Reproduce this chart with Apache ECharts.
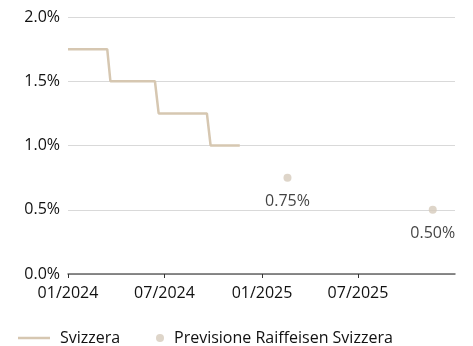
<!DOCTYPE html>
<html><head><meta charset="utf-8">
<script src="https://cdn.jsdelivr.net/npm/echarts@6/dist/echarts.min.js"></script>
<style>html,body{margin:0;padding:0;background:#fff}#c{width:473px;height:346px}</style>
</head><body><div id="c"></div>
<script>
// Policy rate Switzerland (step line)
const lineDates = ['2024-01-01','2024-03-15','2024-03-21','2024-06-13','2024-06-20','2024-09-19','2024-09-26','2024-11-20'];
const lineValues = [1.75, 1.75, 1.50, 1.50, 1.25, 1.25, 1.00, 1.00];
// Raiffeisen forecast
const forecastDates = ['2025-02-18','2025-11-19'];
const forecastValues = [0.75, 0.50];
// Axis ticks
const xTickDates = ['2024-01-01','2024-07-01','2025-01-01','2025-07-01'];
const yTicks = [0, 0.5, 1.0, 1.5, 2.0];
const seriesNames = ['Svizzera', 'Previsione Raiffeisen Svizzera'];

const FONT = 'Open Sans';
const TXT = '#111';
const ts = d => new Date(d + 'T00:00:00Z').getTime();
const pad2 = n => (n < 10 ? '0' : '') + n;

const chart = echarts.init(document.getElementById('c'), null, {renderer: 'canvas'});
chart.setOption({
  animation: false,
  textStyle: {fontFamily: FONT},
  grid: {left: 68, right: 18, top: 17, bottom: 72, containLabel: false},
  xAxis: {
    type: 'value',
    min: ts('2024-01-01'),
    max: ts('2025-12-31'),
    axisLine: {show: true, lineStyle: {color: '#666', width: 1.5}},
    axisTick: {show: true, length: 4, lineStyle: {color: '#333'}, customValues: xTickDates.map(ts)},
    axisLabel: {
      customValues: xTickDates.map(ts),
      color: TXT, fontSize: 16, fontFamily: FONT, margin: 11,
      formatter: v => { const d = new Date(v); return pad2(d.getUTCMonth() + 1) + '/' + d.getUTCFullYear(); }
    },
    splitLine: {show: false}
  },
  yAxis: {
    type: 'value', min: 0, max: 2, interval: 0.5,
    axisLine: {show: false}, axisTick: {show: false},
    axisLabel: {color: TXT, fontSize: 16, fontFamily: FONT, margin: 8, formatter: v => v.toFixed(1) + '%'},
    splitLine: {lineStyle: {color: '#d9d9d9', width: 1}}
  },
  legend: [
    {data: [{name: seriesNames[0], icon: 'rect'}], left: 18, top: 330, padding: 0, itemWidth: 32, itemHeight: 2.5,
     textStyle: {color: TXT, fontSize: 16, fontFamily: FONT, padding: [0,0,0,5]}},
    {data: [seriesNames[1]], left: 156, top: 330, padding: 0, itemWidth: 8, itemHeight: 8, icon: 'circle',
     textStyle: {color: TXT, fontSize: 16, fontFamily: FONT, padding: [0,0,0,5]}}
  ],
  series: [
    {name: seriesNames[0], type: 'line', symbol: 'none',
     data: lineDates.map((d, i) => [ts(d), lineValues[i]]),
     lineStyle: {color: '#d6c7b1', width: 2.5}, itemStyle: {color: '#d6c7b1'}},
    {name: seriesNames[1], type: 'scatter', symbol: 'circle', symbolSize: 8,
     data: forecastDates.map((d, i) => [ts(d), forecastValues[i]]),
     itemStyle: {color: '#d6cbbb'},
     label: {show: true, position: 'bottom', distance: 12, color: TXT, fontSize: 16, fontFamily: FONT,
             formatter: p => p.value[1].toFixed(2) + '%'}}
  ]
});
</script></body></html>
